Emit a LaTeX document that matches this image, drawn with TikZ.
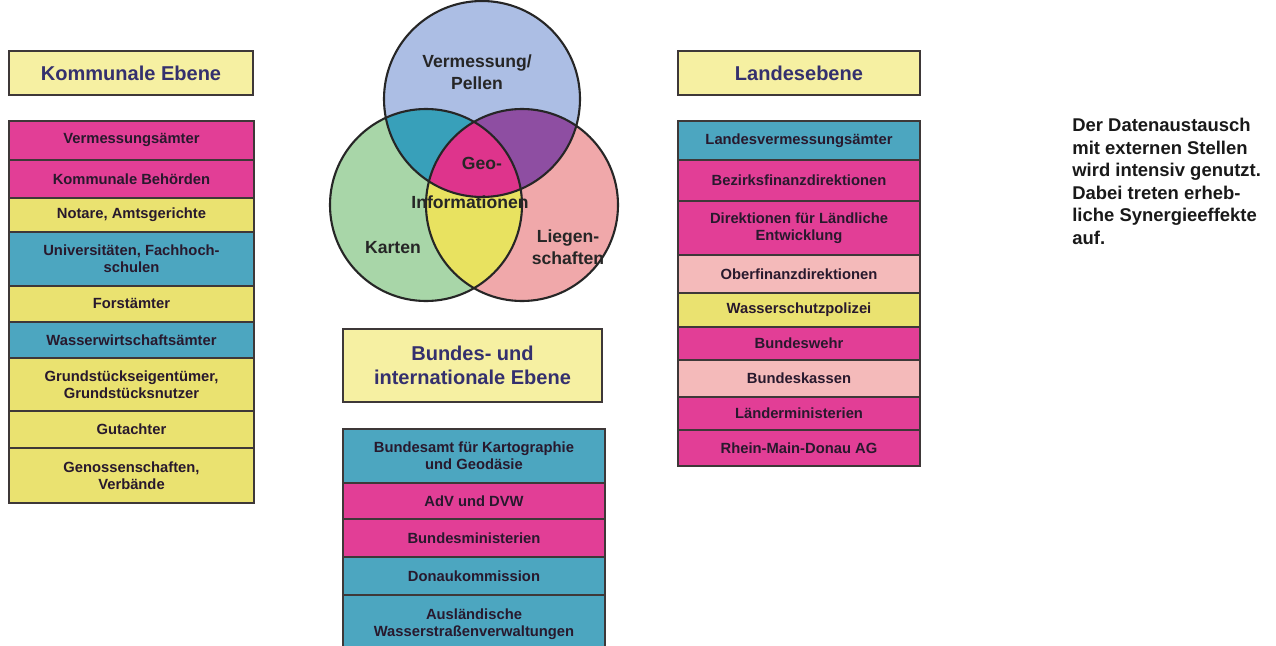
\documentclass[tikz,border=0pt]{standalone}
\usepackage{fontspec}
\setmainfont{Liberation Sans}

\definecolor{rmag}{RGB}{226,62,150}
\definecolor{ryel}{RGB}{234,226,112}
\definecolor{rteal}{RGB}{76,166,192}
\definecolor{rpink}{RGB}{244,186,186}
\definecolor{hyel}{RGB}{246,240,162}
\definecolor{framegray}{RGB}{62,56,56}
\definecolor{rowtext}{RGB}{40,25,45}
\definecolor{headtext}{RGB}{52,48,110}
\definecolor{vblue}{RGB}{172,190,228}
\definecolor{vgreen}{RGB}{168,214,168}
\definecolor{vpink}{RGB}{240,168,170}
\definecolor{vteal}{RGB}{56,160,186}
\definecolor{vpurple}{RGB}{142,78,162}
\definecolor{vyellow}{RGB}{232,226,96}
\definecolor{vmag}{RGB}{222,52,140}

\begin{document}
\begin{tikzpicture}[x=0.02cm, y=-0.02cm,
    tall/.style={minimum height=#1*0.02cm},
    rowbox/.style={draw=framegray, line width=1pt, minimum width=#1, anchor=north, align=center,
      inner sep=1pt, text=rowtext, font=\fontsize{8.4}{9.8}\selectfont\bfseries},
    lrow/.style={rowbox=4.9cm},
    rrow/.style={rowbox=4.84cm},
    mrow/.style={rowbox=5.24cm},
    headbox/.style={draw=framegray, line width=1pt, fill=hyel, anchor=north, align=center,
      text=headtext, font=\fontsize{11.4}{13.5}\selectfont\bfseries},
    ring/.style={draw=black!85, line width=1.2pt},
    venntext/.style={align=center, text=black!85, font=\fontsize{10}{12.3}\selectfont\bfseries}]
    \useasboundingbox (0,0) rectangle (1276,646);
    \clip (0,0) rectangle (1276,646);
    \fill[white] (0,0) rectangle (1276,646);

    % Kommunale Ebene
    \node[headbox, minimum width=4.88cm, tall=44] (kHead) at (131,50) {Kommunale Ebene};
    \node[lrow, fill=rmag, tall=39] (kVerm) at (131.5,120) {Vermessungsämter};
    \node[lrow, fill=rmag, tall=38] (kBeh) at (131.5,159) {Kommunale Behörden};
    \node[lrow, fill=ryel, tall=34] (kNot) at (131.5,197) {Notare, Amtsgerichte};
    \node[lrow, fill=rteal, tall=54] (kUni) at (131.5,231) {Universitäten, Fachhoch-\\schulen};
    \node[lrow, fill=ryel, tall=36] (kForst) at (131.5,285) {Forstämter};
    \node[lrow, fill=rteal, tall=36] (kWasser) at (131.5,321) {Wasserwirtschaftsämter};
    \node[lrow, fill=ryel, tall=53] (kGrund) at (131.5,357) {Grundstückseigentümer,\\Grundstücksnutzer};
    \node[lrow, fill=ryel, tall=37] (kGut) at (131.5,410) {Gutachter};
    \node[lrow, fill=ryel, tall=55] (kGen) at (131.5,447) {Genossenschaften,\\Verbände};

    % Landesebene
    \node[headbox, minimum width=4.84cm, tall=44] (lHead) at (799,50) {Landesebene};
    \node[rrow, fill=rteal, tall=39] (lVerm) at (799,120) {Landesvermessungsämter};
    \node[rrow, fill=rmag, tall=41] (lBez) at (799,159) {Bezirksfinanzdirektionen};
    \node[rrow, fill=rmag, tall=54] (lDir) at (799,200) {Direktionen für Ländliche\\Entwicklung};
    \node[rrow, fill=rpink, tall=38] (lOber) at (799,254) {Oberfinanzdirektionen};
    \node[rrow, fill=ryel, tall=34] (lPol) at (799,292) {Wasserschutzpolizei};
    \node[rrow, fill=rmag, tall=33] (lWehr) at (799,326) {Bundeswehr};
    \node[rrow, fill=rpink, tall=37] (lKass) at (799,359) {Bundeskassen};
    \node[rrow, fill=rmag, tall=33] (lMin) at (799,396) {Länderministerien};
    \node[rrow, fill=rmag, tall=36] (lRMD) at (799,429) {Rhein-Main-Donau AG};

    % Bundes- und internationale Ebene
    \node[headbox, minimum width=5.18cm, tall=73] (bHead) at (472.5,328) {Bundes- und\\internationale Ebene};
    \node[mrow, fill=rteal, tall=54] (bBKG) at (474,428) {Bundesamt für Kartographie\\und Geodäsie};
    \node[mrow, fill=rmag, tall=36] (bAdV) at (474,482) {AdV und DVW};
    \node[mrow, fill=rmag, tall=38] (bMin) at (474,518) {Bundesministerien};
    \node[mrow, fill=rteal, tall=38] (bDonau) at (474,556) {Donaukommission};
    \node[mrow, fill=rteal, tall=58] (bAusl) at (474,594) {Ausländische\\Wasserstraßenverwaltungen};

    % Venn diagram
    \coordinate (vTop) at (482,99);
    \coordinate (vLeft) at (426,205);
    \coordinate (vRight) at (522,205);
    \fill[vblue] (vTop) circle (98);
    \fill[vgreen] (vLeft) circle (96);
    \fill[vpink] (vRight) circle (96);
    \begin{scope}
      \clip (vLeft) circle (96);
      \fill[vyellow] (vRight) circle (96);
    \end{scope}
    \begin{scope}
      \clip (vTop) circle (98);
      \fill[vteal] (vLeft) circle (96);
      \fill[vpurple] (vRight) circle (96);
      \clip (vLeft) circle (96);
      \fill[vmag] (vRight) circle (96);
    \end{scope}
    \draw[ring] (vTop) circle (98);
    \draw[ring] (vLeft) circle (96);
    \draw[ring] (vRight) circle (96);
    \node[venntext] (vVerm) at (477,72) {Vermessung/\\Pellen};
    \node[venntext] (vGeo) at (482,163) {Geo-};
    \node[venntext] (vInfo) at (470,202) {Informationen};
    \node[venntext] (vKarten) at (393,248) {Karten};
    \node[venntext] (vLieg) at (568,247) {Liegen-\\schaften};

    % side note
    \node[anchor=north west, align=left, inner sep=0pt, text=black!90,
      font=\fontsize{10.5}{12.8}\selectfont\bfseries] (note) at (1072,118)
      {Der Datenaustausch\\mit externen Stellen\\wird intensiv genutzt.\\Dabei treten erheb-\\liche Synergieeffekte\\auf.};
\end{tikzpicture}
\end{document}
